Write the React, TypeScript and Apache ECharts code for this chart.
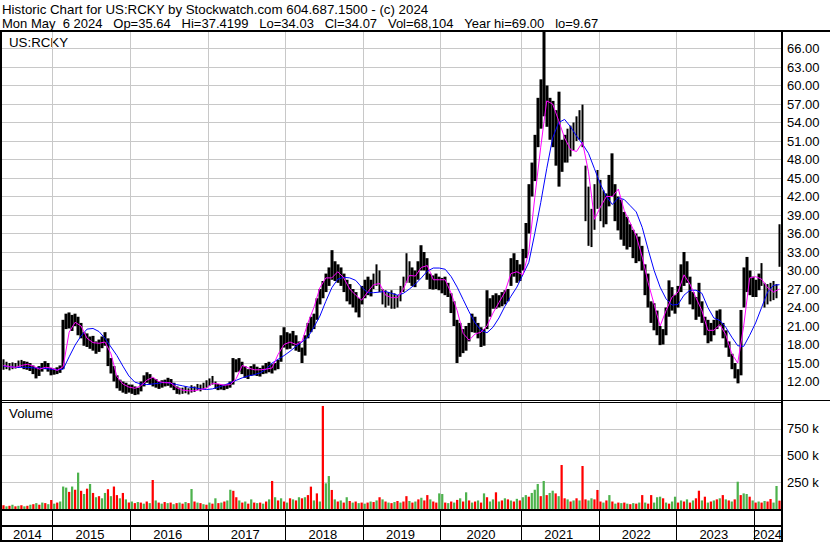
import React, { useEffect, useRef } from 'react';
import * as echarts from 'echarts';

// ---- data ----
// one bar per two-week period, first period starts on this date
const START_DATE = '2014-05-08';
const PERIOD_DAYS = 14;

const priceHigh = [
  15.6, 15.2, 15.0, 15.1, 15.0, 15.4, 15.5, 15.3, 15.2, 15.0,
  14.6, 14.3, 14.5, 15.0, 15.3, 15.0, 14.2, 14.1, 14.3, 14.6,
  22.0, 23.0, 23.2, 22.8, 23.0, 22.5, 21.5, 20.0, 19.8, 19.3,
  19.4, 18.5, 18.8, 19.3, 20.0, 19.0, 15.8, 14.5, 13.0, 12.3,
  12.0, 11.8, 11.5, 11.5, 11.2, 11.0, 12.0, 13.0, 13.5, 13.2,
  12.6, 12.4, 12.0, 12.2, 12.3, 12.6, 12.4, 11.8, 11.2, 11.0,
  11.0, 11.2, 10.9, 11.4, 11.2, 11.6, 11.5, 11.8, 12.2, 12.5,
  12.9, 12.0, 11.6, 11.5, 11.5, 11.6, 12.0, 15.8, 15.6, 15.8,
  15.2, 14.5, 14.0, 14.5, 14.8, 14.4, 14.2, 14.6, 15.0, 15.2,
  14.8, 15.0, 15.5, 19.5, 20.8, 20.0, 19.8, 20.2, 19.5, 18.5,
  17.5, 19.5, 21.5, 22.5, 23.0, 25.5, 27.0, 28.3, 29.5, 30.5,
  33.3, 31.5, 31.0, 30.5, 29.5, 28.5, 27.8, 27.0, 26.5, 25.5,
  27.5, 28.5, 29.0, 28.5, 29.5, 31.0, 30.0, 27.0, 26.8, 26.5,
  26.8, 26.3, 26.0, 27.5, 29.0, 32.8, 31.5, 30.5, 30.0, 31.5,
  34.1, 33.0, 32.0, 29.5, 29.2, 29.5, 29.0, 28.8, 29.0, 28.0,
  26.3, 25.0, 22.0, 21.5, 20.5, 21.0, 21.5, 23.0, 22.5, 21.5,
  20.8, 20.5, 26.8, 25.5, 26.0, 26.3, 26.0, 26.5, 26.8, 27.0,
  32.0, 32.8, 31.7, 31.0, 33.5, 37.7, 44.0, 47.5, 52.0, 58.0,
  61.0, 69.0, 60.0, 58.0, 57.5, 56.0, 59.0, 51.2, 52.0, 53.0,
  53.5, 54.0, 55.0, 56.0, 56.9, 47.0, 43.6, 40.0, 44.0, 46.3,
  44.7, 43.0, 42.5, 45.5, 49.0, 44.0, 42.0, 41.5, 39.5, 38.7,
  37.5, 36.6, 36.0, 35.5, 34.0, 31.0, 29.5, 25.0, 24.7, 23.5,
  21.0, 20.5, 24.0, 28.4, 27.3, 26.0, 27.5, 31.0, 33.0, 31.5,
  29.0, 26.5, 25.7, 28.0, 25.0, 22.5, 22.0, 21.5, 22.0, 23.5,
  23.7, 21.5, 20.3, 18.5, 16.5, 15.0, 14.0, 23.6, 30.5, 32.2,
  30.0, 29.0, 28.5, 29.5, 31.2, 28.0, 27.8, 28.0, 28.3, 27.8,
  37.5,
];

const priceLow = [
  13.9, 14.0, 13.8, 14.0, 14.1, 14.2, 14.3, 14.0, 13.9, 13.7,
  13.2, 12.5, 12.9, 13.6, 14.0, 13.6, 13.0, 13.1, 13.2, 13.4,
  14.0, 20.5, 20.6, 20.2, 21.0, 19.5, 19.0, 17.8, 17.6, 17.3,
  17.0, 16.5, 16.8, 17.4, 17.8, 14.5, 13.3, 12.0, 10.9, 10.5,
  10.2, 10.0, 10.2, 10.0, 9.8, 9.9, 10.4, 11.2, 11.8, 11.5,
  11.2, 11.0, 10.8, 11.0, 11.2, 11.3, 11.0, 10.6, 10.0, 9.9,
  10.0, 10.1, 9.9, 10.2, 10.3, 10.6, 10.4, 10.7, 11.0, 11.3,
  11.5, 10.8, 10.6, 10.7, 10.6, 10.8, 11.0, 11.5, 13.5, 13.6,
  13.2, 12.6, 12.4, 12.9, 13.0, 12.9, 12.8, 13.2, 13.3, 13.5,
  13.3, 13.8, 14.0, 15.2, 17.5, 17.2, 17.3, 17.8, 17.0, 16.8,
  15.0, 16.2, 19.0, 20.0, 20.5, 22.0, 24.5, 25.5, 26.5, 27.5,
  28.5, 28.3, 28.0, 27.5, 26.5, 25.0, 24.5, 24.0, 23.2, 22.4,
  24.5, 25.5, 26.0, 25.8, 27.0, 27.5, 26.5, 24.5, 24.0, 24.3,
  23.8, 23.8, 24.0, 25.0, 26.5, 28.0, 28.0, 27.5, 27.3, 28.5,
  30.0, 30.0, 28.5, 27.0, 26.9, 27.0, 26.8, 26.3, 26.0, 25.7,
  23.1, 21.0, 15.0, 16.0, 16.6, 17.0, 18.5, 20.0, 19.9, 19.0,
  17.6, 17.8, 20.5, 22.5, 23.8, 23.8, 24.0, 24.2, 24.5, 25.0,
  27.5, 29.0, 28.0, 28.3, 30.0, 32.0, 36.0, 42.0, 44.5, 50.0,
  53.0, 55.0, 53.3, 51.2, 50.0, 47.0, 43.6, 46.0, 47.5, 47.5,
  48.5, 49.5, 51.0, 51.2, 50.0, 38.0, 34.0, 33.8, 36.6, 40.0,
  38.0, 37.0, 37.5, 40.4, 42.0, 38.0, 36.5, 35.0, 34.0, 33.4,
  33.8, 32.0, 31.2, 31.5, 30.0, 26.0, 24.0, 21.5, 20.3, 19.5,
  17.9, 18.0, 19.5, 22.5, 23.5, 23.0, 24.0, 26.5, 27.5, 28.0,
  24.5, 23.7, 22.0, 22.5, 21.5, 19.5, 18.2, 18.5, 19.5, 20.5,
  21.0, 19.0, 17.5, 16.0, 14.0, 12.5, 11.7, 13.0, 24.0, 26.5,
  26.0, 25.7, 25.7, 26.8, 27.5, 24.0, 24.5, 25.0, 25.2, 25.5,
  30.6,
];

// moving averages, read at every second period
const maFast = [
  14.6, 14.4, 14.3, 14.6, 14.8, 14.5, 14.0, 14.3, 14.2, 13.8,
  14.4, 20.0, 21.6, 21.0, 19.0, 18.3, 18.2, 18.4, 16.5, 12.8,
  11.6, 11.1, 10.9, 11.3, 12.2, 12.7, 12.0, 11.8, 11.8, 11.0,
  10.6, 10.5, 10.5, 10.7, 10.9, 11.7, 11.6, 11.4, 11.5, 12.5,
  14.6, 14.2, 13.9, 13.9, 14.0, 14.2, 16.4, 18.0, 18.4, 18.0,
  18.5, 21.5, 24.0, 27.2, 28.8, 28.8, 29.8, 28.8, 27.0, 26.0,
  25.2, 26.5, 27.7, 27.9, 26.0, 25.6, 25.6, 27.0, 29.2, 29.1,
  30.5, 30.8, 28.5, 28.5, 28.5, 26.3, 23.5, 19.8, 18.7, 19.7,
  20.0, 21.0, 23.1, 24.8, 26.5, 29.5, 29.8, 29.3, 33.0, 41.8,
  50.0, 57.5, 57.0, 54.3, 51.5, 49.6, 49.3, 50.8, 46.0, 38.3,
  40.3, 42.0, 42.0, 43.2, 39.7, 37.7, 35.6, 32.2, 28.0, 24.5,
  21.0, 23.5, 25.7, 26.5, 29.3, 27.8, 25.6, 23.5, 20.3, 20.3,
  21.2, 19.6, 16.5, 15.0, 21.0, 28.8, 29.0, 28.6, 27.2, 26.5,
  27.0,
];

const maSlow = [
  14.5, 14.4, 14.3, 14.3, 14.3, 14.2, 14.2, 14.1, 14.0, 13.9,
  14.0, 16.0, 17.9, 19.4, 20.5, 20.6, 20.1, 19.0, 17.6, 16.2,
  14.5, 12.9, 11.9, 11.6, 11.5, 11.6, 11.7, 11.9, 11.7, 11.5,
  11.3, 11.1, 11.0, 10.8, 10.7, 10.8, 11.1, 11.4, 11.8, 12.2,
  12.6, 12.9, 13.1, 13.4, 14.0, 15.0, 15.6, 16.2, 16.9, 17.7,
  18.4, 19.2, 20.8, 22.6, 25.0, 27.2, 28.6, 28.9, 28.8, 28.4,
  27.3, 26.4, 26.4, 26.5, 26.6, 26.3, 26.0, 26.3, 27.0, 27.8,
  28.8, 29.9, 30.4, 30.4, 30.2, 29.0, 27.3, 25.3, 23.3, 21.5,
  20.3, 19.9, 20.8, 22.3, 24.2, 25.8, 27.3, 29.3, 31.3, 36.0,
  41.0, 46.5, 51.5, 54.0, 54.5, 53.3, 51.8, 50.5, 49.0, 46.5,
  44.0, 42.0, 40.7, 41.8, 41.5, 40.5, 39.5, 37.0, 33.4, 30.0,
  27.3, 25.4, 24.4, 24.5, 26.0, 26.8, 26.8, 26.3, 24.0, 22.3,
  21.9, 20.8, 19.2, 17.8, 17.7, 19.5, 21.5, 24.0, 26.5, 27.6,
  27.7,
];

// volume per period, thousands of shares
const volumeK = [
  35, 25, 30, 40, 25, 30, 35, 25, 30, 40,
  45, 55, 40, 60, 55, 45, 84, 50, 60, 70,
  210, 200, 160, 210, 180, 340, 170, 140, 190, 234,
  150, 110, 120, 100, 150, 185, 120, 210, 130, 100,
  150, 90, 60, 70, 55, 65, 60, 50, 70, 55,
  271, 80, 60, 50, 65, 55, 60, 45, 55, 60,
  50, 65, 55, 187, 70, 60, 55, 45, 40, 60,
  50, 100, 55, 60, 70, 80, 180, 170, 110, 80,
  60, 70, 50, 90, 60, 55, 60, 50, 70, 90,
  262, 110, 80, 100, 70, 60, 100, 90, 80, 110,
  100, 110, 130, 209, 80, 146, 70, 963, 240, 308,
  178, 90, 70, 80, 60, 110, 75, 60, 70, 55,
  60, 50, 60, 70, 65, 80, 110, 90, 70, 60,
  55, 65, 75, 60, 70, 120, 75, 60, 70, 90,
  105, 80, 130, 90, 70, 60, 146, 140, 60, 55,
  70, 60, 85, 100, 70, 156, 80, 60, 70, 80,
  60, 146, 110, 70, 90, 156, 70, 80, 100, 90,
  80, 70, 95, 80, 110, 130, 115, 150, 180, 234,
  120, 262, 130, 150, 171, 146, 120, 411, 100, 90,
  70, 80, 100, 80, 402, 90, 80, 100, 90, 178,
  70, 60, 80, 130, 70, 50, 60, 55, 60, 50,
  45, 55, 50, 60, 130, 60, 50, 130, 60, 110,
  115, 100, 60, 50, 70, 115, 60, 80, 70, 90,
  60, 80, 100, 171, 80, 115, 60, 70, 80, 90,
  100, 130, 90, 80, 70, 90, 255, 130, 146, 140,
  115, 80, 60, 70, 60, 75, 70, 93, 60, 215,
  78,
];

// g = up period (green), r = down period (red)
const volumeDir = (
  'rgrgrgrgrg rgrgrgrgrg ggrgrgrgrg rgrggrgrrg rgrgrgrgrg ' +
  'rgrgrgrgrg rgrgrgrgrg rgrgrggrrg rgrgrgrgrg rgrgrgrgrg ' +
  'rgrrgrgrgg rgrgrgrgrg rgrgrgrgrg rgrgrrgrgr grrgrrggrg ' +
  'rgrgrgrgrg rgrggrgrgr grgrggrggg rgrggrgrrg rgrgrrggrr ' +
  'rgrgrgrgrg rgrgrgrrgg grgrggrgrg rgrrgrgrgr grgrgrgrgg ' +
  'rgrgrgrrgg r'
).replace(/ /g, '');

const TITLE_1 = 'Historic Chart for US:RCKY by Stockwatch.com 604.687.1500 - (c) 2024';
const TITLE_2 =
  'Mon May  6 2024   Op=35.64   Hi=37.4199   Lo=34.03   Cl=34.07   Vol=68,104   Year hi=69.00   lo=9.67';
const SYMBOL = 'US:RCKY';

// ---- styles ----
const FONT = 'Liberation Sans, Arial, sans-serif';
const GRID_GRAY = '#c8c8c8';
const UP_GREEN = '#4db24d';
const DOWN_RED = '#ff0000';

// keep runs of spaces visible in SVG text
const keepSpaces = (s: string) => s.replace(/ {2,}/g, (m) => ' ' + '\u00a0'.repeat(m.length - 1));

export default function App() {
  const ref = useRef<HTMLDivElement>(null);

  useEffect(() => {
    if (!ref.current) return;
    const chart = echarts.init(ref.current, null, { renderer: 'svg' });

    const DAY = 86400000;
    const base = Date.parse(START_DATE + 'T00:00:00Z');
    const categories = priceHigh.map((_, i) =>
      new Date(base + i * PERIOD_DAYS * DAY).toISOString().slice(0, 10)
    );
    const periodYear = priceHigh.map((_, i) =>
      new Date(base + (i * PERIOD_DAYS + 7) * DAY).getUTCFullYear()
    );
    const yearStarts = new Set<number>();
    const labelIdx = new Map<number, string>();
    let segStart = 0;
    for (let i = 1; i <= periodYear.length; i++) {
      if (i === periodYear.length || periodYear[i] !== periodYear[i - 1]) {
        labelIdx.set(Math.floor((segStart + i - 1) / 2), String(periodYear[i - 1]));
        if (i < periodYear.length) yearStarts.add(i);
        segStart = i;
      }
    }
    const yearLine = (idx: number) => yearStarts.has(idx);

    const candles = priceHigh.map((h, i) => [priceLow[i], h, priceLow[i], h]);
    const fastData = maFast.map((v, k) => [k * 2, v]);
    const slowData = maSlow.map((v, k) => [k * 2, v]);
    const volData = volumeK.map((v, i) => ({
      value: v * 1000,
      itemStyle: { color: volumeDir[i] === 'g' ? UP_GREEN : DOWN_RED },
    }));

    const gridX = { left: 2, width: 779 };
    const hiddenCat = (gridIndex: number, lineColor: string) => ({
      type: 'category',
      gridIndex,
      data: categories,
      boundaryGap: true,
      axisLine: { show: false },
      axisTick: { show: false },
      axisLabel: { show: false },
      splitLine: { show: true, interval: yearLine, lineStyle: { color: lineColor, width: 1 } },
    });

    const option: any = {
      animation: false,
      backgroundColor: '#ffffff',
      grid: [
        { ...gridX, top: 30, height: 370, outerBoundsMode: 'none', containLabel: false },
        { ...gridX, top: 402, height: 107, outerBoundsMode: 'none', containLabel: false },
        { ...gridX, top: 510, height: 31, outerBoundsMode: 'none', containLabel: false },
      ],
      xAxis: [
        hiddenCat(0, GRID_GRAY),
        hiddenCat(1, GRID_GRAY),
        {
          ...hiddenCat(2, '#000000'),
          position: 'top',
          axisLabel: {
            show: true,
            inside: true,
            margin: 18,
            interval: (idx: number) => labelIdx.has(idx),
            formatter: (_v: string, idx: number) => labelIdx.get(idx) || '',
            color: '#000',
            fontSize: 13,
            fontFamily: FONT,
          },
        },
      ],
      yAxis: [
        {
          type: 'value',
          gridIndex: 0,
          position: 'right',
          min: 9,
          max: 69,
          interval: 3,
          axisLine: { show: false },
          axisTick: { show: false },
          splitLine: { show: true, lineStyle: { color: GRID_GRAY, width: 1 } },
          axisLabel: {
            margin: 6,
            color: '#000',
            fontSize: 13,
            fontFamily: FONT,
            formatter: (v: number) => (v >= 12 && v <= 66 ? v.toFixed(2) : ''),
          },
        },
        {
          type: 'value',
          gridIndex: 1,
          position: 'right',
          min: 0,
          max: 1000000,
          interval: 250000,
          axisLine: { show: false },
          axisTick: { show: false },
          splitLine: { show: true, lineStyle: { color: GRID_GRAY, width: 1 } },
          axisLabel: {
            margin: 6,
            color: '#000',
            fontSize: 13,
            fontFamily: FONT,
            formatter: (v: number) => (v > 0 && v < 1000000 ? v / 1000 + ' k' : ''),
          },
        },
        {
          type: 'value',
          gridIndex: 2,
          min: 0,
          max: 1,
          show: false,
          splitLine: { show: false },
        },
      ],
      series: [
        {
          type: 'candlestick',
          xAxisIndex: 0,
          yAxisIndex: 0,
          data: candles,
          barWidth: 3.3,
          barMaxWidth: 4,
          itemStyle: {
            color: '#000',
            color0: '#000',
            borderColor: '#000',
            borderColor0: '#000',
            borderWidth: 0,
          },
          z: 2,
        },
        {
          type: 'line',
          xAxisIndex: 0,
          yAxisIndex: 0,
          data: slowData,
          symbol: 'none',
          lineStyle: { color: '#0000ff', width: 1 },
          z: 3,
        },
        {
          type: 'line',
          xAxisIndex: 0,
          yAxisIndex: 0,
          data: fastData,
          symbol: 'none',
          lineStyle: { color: '#ff00ff', width: 1 },
          z: 4,
        },
        {
          type: 'bar',
          xAxisIndex: 1,
          yAxisIndex: 1,
          data: volData,
          barWidth: '75%',
        },
      ],
      graphic: [
        {
          type: 'text',
          x: 2,
          y: 9.5,
          style: { text: TITLE_1, fontSize: 13.3, fontFamily: FONT, fill: '#000', verticalAlign: 'middle' },
        },
        {
          type: 'text',
          x: 2,
          y: 23.5,
          style: { text: keepSpaces(TITLE_2), fontSize: 13, fontFamily: FONT, fill: '#000', verticalAlign: 'middle' },
        },
        { type: 'text', x: 9, y: 42, style: { text: SYMBOL, fontSize: 13.3, fontFamily: FONT, fill: '#000', verticalAlign: 'middle' } },
        { type: 'text', x: 9, y: 413.5, style: { text: 'Volume', fontSize: 13.3, fontFamily: FONT, fill: '#000', verticalAlign: 'middle' } },
        // frame
        { type: 'rect', shape: { x: 0, y: 30, width: 830, height: 2 }, style: { fill: '#000' }, z: 100 },
        { type: 'rect', shape: { x: 0, y: 30, width: 2, height: 512 }, style: { fill: '#000' }, z: 100 },
        { type: 'rect', shape: { x: 781, y: 30, width: 2, height: 512 }, style: { fill: '#000' }, z: 100 },
        { type: 'rect', shape: { x: 0, y: 400, width: 830, height: 1 }, style: { fill: '#000' }, z: 100 },
        { type: 'rect', shape: { x: 0, y: 402, width: 783, height: 1 }, style: { fill: '#000' }, z: 100 },
        { type: 'rect', shape: { x: 0, y: 509, width: 783, height: 2 }, style: { fill: '#000' }, z: 100 },
        { type: 'rect', shape: { x: 0, y: 525, width: 783, height: 2 }, style: { fill: '#000' }, z: 100 },
        { type: 'rect', shape: { x: 0, y: 540, width: 783, height: 2 }, style: { fill: '#000' }, z: 100 },
      ],
    };

    chart.setOption(option);
    return () => chart.dispose();
  }, []);

  return (
    <div
      ref={ref}
      style={{ position: 'absolute', left: 0, top: 0, width: 830, height: 543, background: '#fff' }}
    />
  );
}
